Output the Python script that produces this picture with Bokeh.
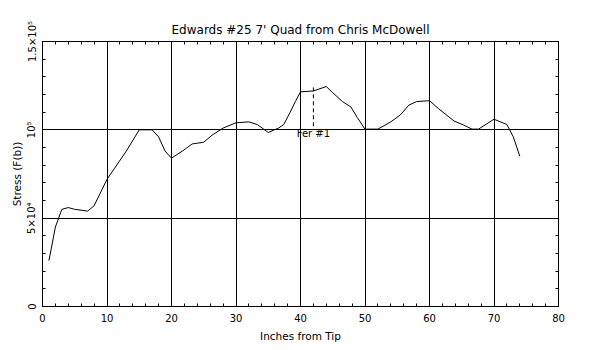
from bokeh.plotting import figure
from bokeh.models import LinearAxis, Range1d, FixedTicker
from bokeh.embed import file_html
from bokeh.resources import INLINE
from bokeh.core.properties import value

# ---- data ----
inches = [1, 2, 3, 4, 5, 7, 8, 10, 13, 15, 16, 17, 18, 19, 20, 21.7, 23.2, 25,
          26.3, 28, 30, 32, 33.3, 35, 36.6, 37.4, 38.4, 39.2, 40, 42, 44, 45,
          46.5, 47.8, 48.8, 50, 52, 54, 55.5, 56.8, 58, 60, 61.4, 63.8, 65.3,
          66.6, 67.6, 70, 72, 73, 74]
stress = [26000, 45000, 55000, 56000, 55000, 54000, 57000, 72000, 88000, 100000,
          100000, 100000, 96000, 88000, 84000, 88000, 92000, 93000, 97000, 101000,
          104000, 104500, 103000, 98500, 101000, 103000, 110000, 116000, 121500,
          122000, 124500, 121000, 116000, 113000, 107000, 100400, 100400, 104500,
          108500, 114000, 116000, 116500, 112000, 105000, 102700, 100400, 100400,
          106000, 103000, 96000, 85000]

x_ticks = [0, 10, 20, 30, 40, 50, 60, 70, 80]
x_minor = list(range(0, 81, 2))
y_ticks = [0, 50000, 100000, 150000]
y_minor = list(range(0, 150001, 10000))
y_tick_labels = ["0", "5×10⁴", "10⁵", "1.5×10⁵"]

fer_x = 42
fer_top = 124000
fer_bottom = 102000
fer_label_y = 97800
fer_label = "Fer #1"

title_text = "Edwards #25 7' Quad from Chris McDowell"
x_label = "Inches from Tip"
y_label = "Stress (F(b))"

FONT = "DejaVu Sans"

p = figure(frame_width=516, frame_height=265, output_backend="svg",
           toolbar_location=None,
           x_range=Range1d(0, 80), y_range=Range1d(0, 150000),
           title=title_text)

p.min_border_left = 42
p.min_border_right = 24
p.min_border_top = 41
p.min_border_bottom = 30

p.background_fill_color = "white"
p.border_fill_color = "white"
p.outline_line_color = "black"
p.outline_line_width = 1

p.title.align = "center"
p.title.text_font = FONT
p.title.text_font_size = "12px"
p.title.text_font_style = "normal"
p.title.text_color = "black"
p.title.standoff = 10

xt = FixedTicker(ticks=x_ticks, minor_ticks=x_minor)
yt = FixedTicker(ticks=y_ticks, minor_ticks=y_minor)

p.xaxis.visible = False
p.yaxis.visible = False

bottom_axis = LinearAxis(ticker=xt, axis_label=x_label)
left_axis = LinearAxis(ticker=yt, axis_label=y_label,
                       major_label_overrides={t: l for t, l in zip(y_ticks, y_tick_labels)},
                       major_label_orientation="vertical")
top_axis = LinearAxis(ticker=xt, major_label_overrides={t: "" for t in x_ticks},
                      major_label_standoff=0)
right_axis = LinearAxis(ticker=yt, major_label_overrides={t: "" for t in y_ticks},
                        major_label_standoff=0)

for ax in (bottom_axis, left_axis, top_axis, right_axis):
    ax.axis_line_color = "black"
    ax.major_tick_line_color = "black"
    ax.minor_tick_line_color = "black"
    ax.major_tick_in = 4
    ax.major_tick_out = 0
    ax.minor_tick_in = 3
    ax.minor_tick_out = 0
    ax.major_label_text_font = FONT
    ax.major_label_text_font_size = "10px"
    ax.major_label_text_color = "black"
    ax.axis_label_text_font = FONT
    ax.axis_label_text_font_style = "normal"
    ax.axis_label_text_font_size = "10.5px"
    ax.axis_label_text_color = "black"

bottom_axis.major_label_standoff = 7
left_axis.major_label_standoff = 5
bottom_axis.axis_label_standoff = 5
left_axis.axis_label_standoff = 1

p.add_layout(bottom_axis, "below")
p.add_layout(left_axis, "left")
p.add_layout(top_axis, "above")
p.add_layout(right_axis, "right")

p.xgrid.ticker = xt
p.ygrid.ticker = yt
p.xgrid.grid_line_color = "black"
p.ygrid.grid_line_color = "black"
p.xgrid.grid_line_width = 1
p.ygrid.grid_line_width = 1

p.line(inches, stress, line_color="black", line_width=1)

p.segment(x0=[fer_x], y0=[fer_bottom], x1=[fer_x], y1=[fer_top],
          line_color="black", line_width=1, line_dash="4 3")
p.text(x=[fer_x], y=[fer_label_y], text=[fer_label], text_align="center",
       text_baseline="middle", text_font=value(FONT), text_font_size="10px",
       text_color="black")

open("out.html", "w").write(file_html(p, INLINE))
